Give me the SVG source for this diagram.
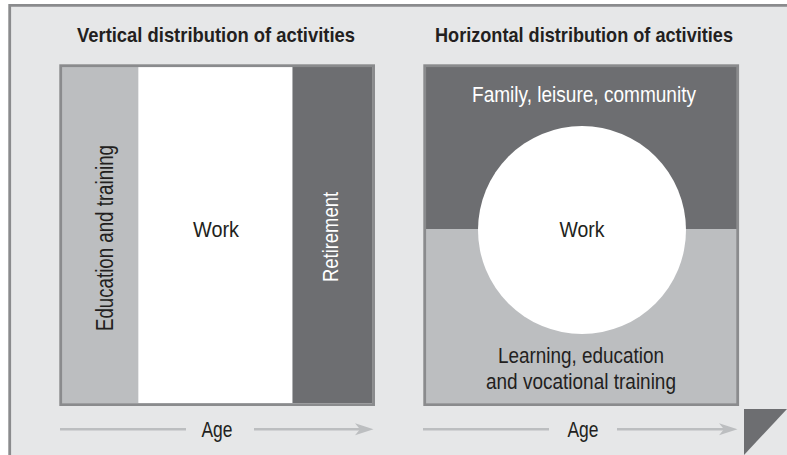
<svg xmlns="http://www.w3.org/2000/svg" width="787" height="455" viewBox="0 0 787 455">
<style>
.t{font-family:"Liberation Sans",Arial,sans-serif;font-size:21.5px;fill:#231f20}
.b{font-weight:bold;font-size:20.5px}
.w{fill:#ffffff}
.frame{fill:none;stroke:#8a8b8d;stroke-width:2.8}
.ax{stroke:#bcbec0;stroke-width:2.6;fill:none}
.ah{fill:#bcbec0}
</style>
<rect x="0" y="0" width="787" height="455" fill="#ffffff"/>
<rect x="10" y="5" width="777" height="450" fill="#e6e7e8"/>
<path d="M9.7,455 V5.4 H787" class="frame"/>
<polygon points="744,409 787,409 744,455" fill="#6d6e71"/>

<g id="left-panel">
<rect x="62" y="67" width="76.5" height="336" fill="#bcbec0"/>
<rect x="138.5" y="67" width="154" height="336" fill="#ffffff"/>
<rect x="292.5" y="67" width="80" height="336" fill="#6d6e71"/>
<rect x="60.7" y="65.7" width="312.9" height="338.9" class="frame"/>
</g>
<g id="title-left"><text class="t b" x="216" y="41.7" text-anchor="middle" textLength="278" lengthAdjust="spacingAndGlyphs">Vertical distribution of activities</text></g>
<g id="education"><text class="t" transform="translate(112.5,238) rotate(-90)" text-anchor="middle" style="font-size:23px" textLength="186" lengthAdjust="spacingAndGlyphs">Education and training</text></g>
<g id="work-left"><text class="t" x="216" y="237" text-anchor="middle" textLength="46" lengthAdjust="spacingAndGlyphs">Work</text></g>
<g id="retirement"><text class="t w" transform="translate(338,237) rotate(-90)" text-anchor="middle" textLength="90" lengthAdjust="spacingAndGlyphs">Retirement</text></g>

<g id="right-panel">
<rect x="426" y="67" width="312" height="162" fill="#6d6e71"/>
<rect x="426" y="229" width="312" height="174" fill="#bcbec0"/>
<circle cx="582" cy="230" r="104" fill="#ffffff"/>
<rect x="424.7" y="65.7" width="313" height="338.9" class="frame"/>
</g>
<g id="title-right"><text class="t b" x="584" y="41.7" text-anchor="middle" textLength="298" lengthAdjust="spacingAndGlyphs">Horizontal distribution of activities</text></g>
<g id="family"><text class="t w" x="584" y="101.7" text-anchor="middle" textLength="224" lengthAdjust="spacingAndGlyphs">Family, leisure, community</text></g>
<g id="work-right"><text class="t" x="582" y="237" text-anchor="middle" textLength="45" lengthAdjust="spacingAndGlyphs">Work</text></g>
<g id="learning"><text class="t" text-anchor="middle"><tspan x="581" y="363" textLength="166" lengthAdjust="spacingAndGlyphs">Learning, education</tspan><tspan x="581" y="389" textLength="190" lengthAdjust="spacingAndGlyphs">and vocational training</tspan></text></g>

<g id="connectors">
<path class="ax" d="M60,429.3 H186 M254,429.3 H361"/>
<polygon class="ah" points="373.5,429.3 355,423.3 360,429.3 355,435.3"/>
<path class="ax" d="M423,429.3 H549 M617,429.3 H725"/>
<polygon class="ah" points="737.5,429.3 719,423.3 724,429.3 719,435.3"/>
</g>
<g id="age-left"><text class="t" x="217" y="437" text-anchor="middle" textLength="31" lengthAdjust="spacingAndGlyphs">Age</text></g>
<g id="age-right"><text class="t" x="583" y="437" text-anchor="middle" textLength="31" lengthAdjust="spacingAndGlyphs">Age</text></g>
</svg>
